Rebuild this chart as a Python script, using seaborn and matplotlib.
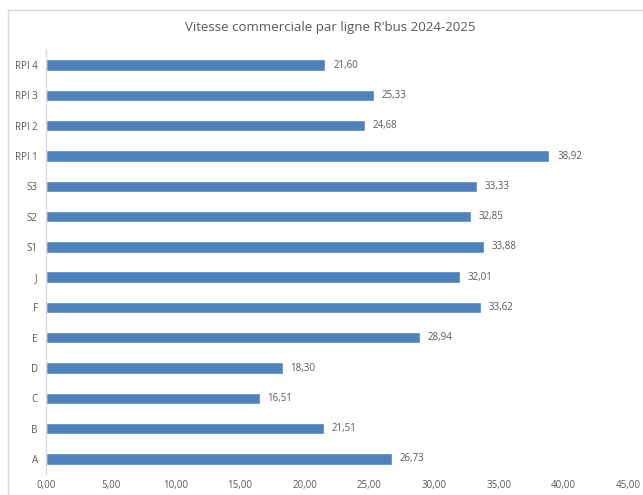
import matplotlib
matplotlib.use("Agg")
import matplotlib.pyplot as plt
import seaborn as sns
import pandas as pd
from matplotlib.patches import Rectangle
from matplotlib.ticker import FuncFormatter

lignes = ["RPI 4", "RPI 3", "RPI 2", "RPI 1", "S3", "S2", "S1", "J", "F", "E", "D", "C", "B", "A"]
vitesses = [21.60, 25.33, 24.68, 38.92, 33.33, 32.85, 33.88, 32.01, 33.62, 28.94, 18.30, 16.51, 21.51, 26.73]
titre = "Vitesse commerciale par ligne R'bus 2024-2025"

df = pd.DataFrame({"ligne": lignes, "vitesse": vitesses})

sns.set_theme(style="white")
plt.rcParams["font.family"] = ["Open Sans", "DejaVu Sans"]

fig = plt.figure(figsize=(6.43, 4.95), dpi=100)
fig.patch.set_facecolor("white")
fig.patches.append(Rectangle((8/643, -0.01), 1.0, 1 - 10/495 + 0.01, transform=fig.transFigure,
                             fill=False, edgecolor="#D9D9D9", linewidth=1.0))

ax = fig.add_axes([46/643, 1 - 474/495, (628 - 46)/643, (474 - 50)/495])
sns.barplot(data=df, x="vitesse", y="ligne", orient="h", color="#4F81BD",
            width=0.38, saturation=1, ax=ax, order=lignes)

ax.set_xlim(0, 45)
ax.set_xticks(range(0, 46, 5))
ax.xaxis.set_major_formatter(FuncFormatter(lambda v, p: f"{v:.2f}".replace(".", ",")))
ax.set_xlabel("")
ax.set_ylabel("")
ax.tick_params(axis="both", length=0, labelsize=7, colors="#595959", pad=6)
ax.tick_params(axis="x", pad=4)

for s in ["top", "right", "bottom"]:
    ax.spines[s].set_visible(False)
ax.spines["left"].set_color("#D9D9D9")
ax.spines["left"].set_linewidth(1.0)

for i, v in enumerate(vitesses):
    ax.text(v + 0.6, i, f"{v:.2f}".replace(".", ","), va="center", ha="left",
            fontsize=7, color="#595959")

fig.text(330/643, 1 - 28/495, titre, ha="center", va="center", fontsize=9.5, color="#595959")

fig.savefig("out.png", dpi=100)
